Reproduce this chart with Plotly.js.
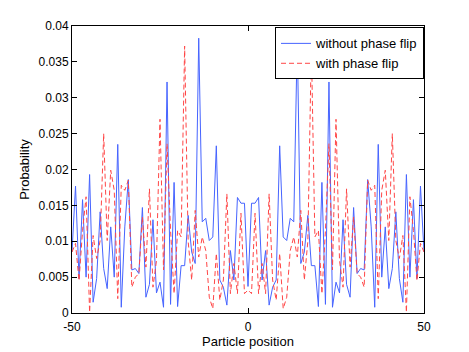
<!DOCTYPE html>
<html>
<head>
<meta charset="utf-8">
<script src="https://cdn.plot.ly/plotly-3.0.1.min.js"></script>
<style>
  html, body { margin: 0; padding: 0; background: #fff; }
  #myPlot { width: 469px; height: 352px; }
</style>
</head>
<body>
<div id="myPlot"></div>
<script>
// particle positions -50 .. 50
var positions = [];
for (var i = -50; i <= 50; i++) positions.push(i);

// probability without phase flip
var withoutFlip = [
  0.0085, 0.0177, 0.0048, 0.0158, 0.0050, 0.0193, 0.0015, 0.0048, 0.0141, 0.0062,
  0.0034, 0.0120, 0.0050, 0.0235, 0.0008, 0.0120, 0.0186, 0.0060, 0.0062, 0.0055,
  0.0147, 0.0022, 0.0040, 0.0130, 0.0028, 0.0043, 0.0008, 0.0322, 0.0012, 0.0182,
  0.0009, 0.0066, 0.0066, 0.0136, 0.0085, 0.0069, 0.0383, 0.0127, 0.0132, 0.0101,
  0.0106, 0.0233, 0.0046, 0.0036, 0.0011, 0.0087, 0.0046, 0.0161, 0.0153, 0.0153,
  0.0037,
  0.0153, 0.0153, 0.0161, 0.0046, 0.0087, 0.0011, 0.0036, 0.0046, 0.0233, 0.0106,
  0.0101, 0.0132, 0.0127, 0.0383, 0.0069, 0.0085, 0.0136, 0.0066, 0.0066, 0.0009,
  0.0182, 0.0012, 0.0322, 0.0008, 0.0043, 0.0028, 0.0130, 0.0040, 0.0022, 0.0147,
  0.0055, 0.0062, 0.0060, 0.0186, 0.0120, 0.0008, 0.0235, 0.0050, 0.0120, 0.0034,
  0.0062, 0.0141, 0.0048, 0.0015, 0.0193, 0.0050, 0.0158, 0.0048, 0.0177, 0.0085
];

// probability with phase flip
var withFlip = [
  0.0085, 0.0097, 0.0045, 0.0115, 0.0162, 0.0001, 0.0108, 0.0076, 0.0101, 0.0250,
  0.0101, 0.0199, 0.0171, 0.0020, 0.0178, 0.0171, 0.0185, 0.0036, 0.0050, 0.0055,
  0.0134, 0.0064, 0.0173, 0.0036, 0.0073, 0.0270, 0.0060, 0.0236, 0.0115, 0.0027,
  0.0115, 0.0106, 0.0372, 0.0100, 0.0046, 0.0143, 0.0078, 0.0106, 0.0087, 0.0022,
  0.0006, 0.0083, 0.0018, 0.0046, 0.0166, 0.0027, 0.0069, 0.0027, 0.0139, 0.0027,
  0.0032,
  0.0027, 0.0139, 0.0027, 0.0069, 0.0027, 0.0166, 0.0046, 0.0018, 0.0083, 0.0006,
  0.0022, 0.0087, 0.0106, 0.0078, 0.0143, 0.0046, 0.0100, 0.0372, 0.0106, 0.0115,
  0.0027, 0.0115, 0.0236, 0.0060, 0.0270, 0.0073, 0.0036, 0.0173, 0.0064, 0.0134,
  0.0055, 0.0050, 0.0036, 0.0185, 0.0171, 0.0178, 0.0020, 0.0171, 0.0199, 0.0101,
  0.0250, 0.0101, 0.0076, 0.0108, 0.0001, 0.0162, 0.0115, 0.0045, 0.0097, 0.0085
];

var xTicks = [-50, 0, 50];
var yTicks = [0, 0.005, 0.01, 0.015, 0.02, 0.025, 0.03, 0.035, 0.04];
var yTickText = ["0", "0.005", "0.01", "0.015", "0.02", "0.025", "0.03", "0.035", "0.04"];

var data = [{
    x: positions,
    y: withoutFlip,
    type: "scatter",
    mode: "lines",
    name: "without phase flip",
    line: { color: "rgb(70,100,255)", width: 1 }
}, {
    x: positions,
    y: withFlip,
    type: "scatter",
    mode: "lines",
    name: "with phase flip",
    line: { color: "rgb(255,70,70)", width: 1, dash: "5px,3px" }
}];

var font = "Liberation Sans, Arial, sans-serif";

var layout = {
    width: 469,
    height: 352,
    margin: { l: 72, r: 45, t: 26, b: 39 },
    paper_bgcolor: "#fff",
    plot_bgcolor: "#fff",
    font: { family: font, size: 12, color: "#000" },
    showlegend: true,
    legend: {
        x: 1, y: 0.995, xanchor: "right", yanchor: "top",
        bgcolor: "#fff", bordercolor: "#000", borderwidth: 1,
        font: { family: font, size: 13, color: "#000" },
        tracegroupgap: 0
    },
    xaxis: {
        range: [-50, 50],
        tickvals: xTicks,
        ticktext: xTicks.map(String),
        ticks: "inside", ticklen: 5, tickcolor: "#000",
        ticklabelstandoff: 3,
        showline: true, linecolor: "#000", linewidth: 1, mirror: "ticks",
        showgrid: false, zeroline: false,
        title: { text: "Particle position", font: { family: font, size: 13 }, standoff: 2 }
    },
    yaxis: {
        range: [0, 0.04],
        tickvals: yTicks,
        ticktext: yTickText,
        ticks: "inside", ticklen: 5, tickcolor: "#000",
        showline: true, linecolor: "#000", linewidth: 1, mirror: "ticks",
        showgrid: false, zeroline: false,
        title: { text: "Probability", font: { family: font, size: 13 }, standoff: 6 }
    }
};

Plotly.newPlot("myPlot", data, layout, { staticPlot: true, displayModeBar: false });
</script>
</body>
</html>
